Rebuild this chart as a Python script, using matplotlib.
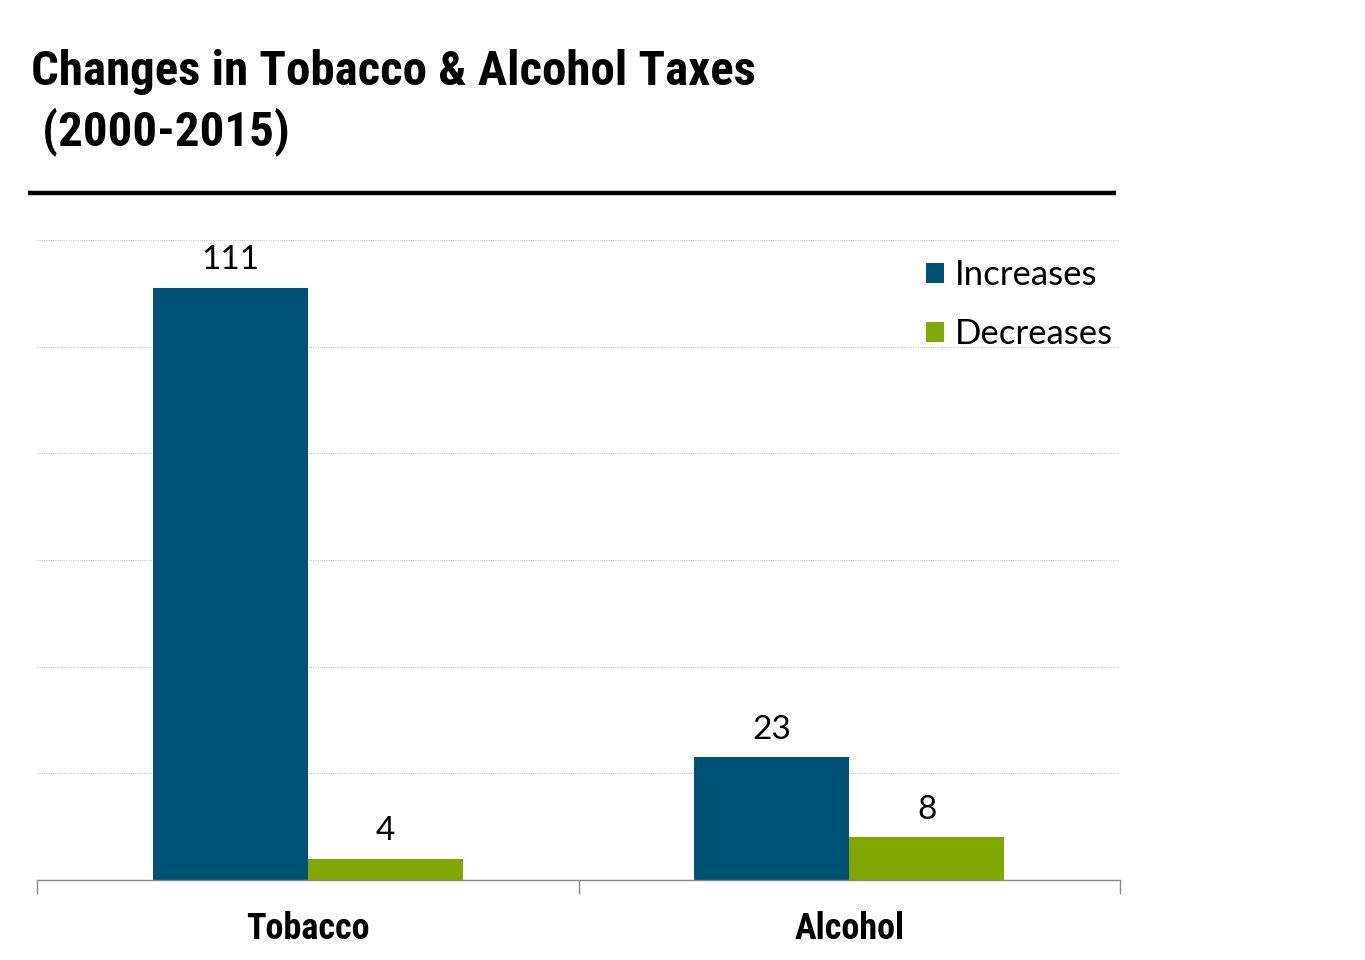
import matplotlib
matplotlib.use("Agg")
import matplotlib.pyplot as plt
from matplotlib import font_manager
import numpy as np

categories = ["Tobacco", "Alcohol"]
series_names = ["Increases", "Decreases"]
increases = [111, 23]
decreases = [4, 8]
title_lines = ["Changes in Tobacco & Alcohol Taxes", " (2000-2015)"]

names = {f.name for f in font_manager.fontManager.ttflist}
narrow = "DejaVu Sans"
for cand in ["Liberation Sans Narrow", "Arial Narrow", "Roboto Condensed", "Open Sans Condensed",
             "DejaVu Sans Condensed", "Liberation Sans", "Arial"]:
    if cand in names:
        narrow = cand
        break
body = "Lato" if "Lato" in names else "DejaVu Sans"

blue = "#005176"
green = "#80A800"

fig = plt.figure(figsize=(13.65, 9.6), dpi=100)
W, H = 1365, 960
renderer = fig.canvas.get_renderer()


def fit_size(txt, base, target_px, **kw):
    t = fig.text(0, 0, txt, fontsize=base, **kw)
    w = t.get_window_extent(renderer).width
    t.remove()
    return base * target_px / w


ax = fig.add_axes([37 / W, 1 - 880 / H, (1120 - 37) / W, (880 - 240) / H])

x = np.arange(len(categories))
bw = 0.286
b1 = ax.bar(x - bw / 2, increases, bw, color=blue, label=series_names[0])
b2 = ax.bar(x + bw / 2, decreases, bw, color=green, label=series_names[1])

for bars in (b1, b2):
    for r in bars:
        ax.text(r.get_x() + r.get_width() / 2, r.get_height() + 3.5, f"{int(r.get_height())}",
                ha="center", va="baseline", fontsize=24, family=body)

ax.set_xlim(-0.5, 1.5)
ax.set_ylim(0, 120)
ax.set_yticks(np.arange(0, 121, 20))
ax.yaxis.grid(True, color="#c8c8c8", linestyle=(0, (1, 1)), linewidth=0.8)
ax.set_axisbelow(True)
ax.tick_params(axis="y", left=False, labelleft=False)
ax.set_xticks([-0.5, 0.5, 1.5])
ax.set_xticklabels([])
ax.set_xticks(x, minor=True)
cat_size = fit_size("Tobacco", 20, 124, fontweight="bold", family=narrow)
ax.set_xticklabels(categories, minor=True, fontsize=cat_size, fontweight="bold", family=narrow)
ax.tick_params(axis="x", which="major", length=10, color="#888888", width=1)
ax.tick_params(axis="x", which="minor", length=0, pad=22)
for s in ["top", "right", "left"]:
    ax.spines[s].set_visible(False)
ax.spines["bottom"].set_color("#888888")
ax.spines["bottom"].set_linewidth(1)

leg = ax.legend(loc="upper left", bbox_to_anchor=((907 - 37) / (1120 - 37), 1.0), frameon=False,
                prop={"family": body, "size": 25}, handlelength=0.52, handleheight=0.52,
                labelspacing=0.78, handletextpad=0.32, borderaxespad=0.15)

title_size = fit_size(title_lines[0], 28, 724, fontweight="bold", family=narrow)
fig.text(31 / W, 1 - 85 / H, title_lines[0], fontsize=title_size, fontweight="bold", family=narrow,
         va="baseline", ha="left")
fig.text(31 / W, 1 - 145 / H, title_lines[1], fontsize=title_size, fontweight="bold", family=narrow,
         va="baseline", ha="left")
fig.add_artist(plt.Line2D([28 / W, 1116 / W], [1 - 193 / H, 1 - 193 / H], color="black",
                          linewidth=3.2, solid_capstyle="butt", transform=fig.transFigure))

fig.savefig("out.png", dpi=100)
